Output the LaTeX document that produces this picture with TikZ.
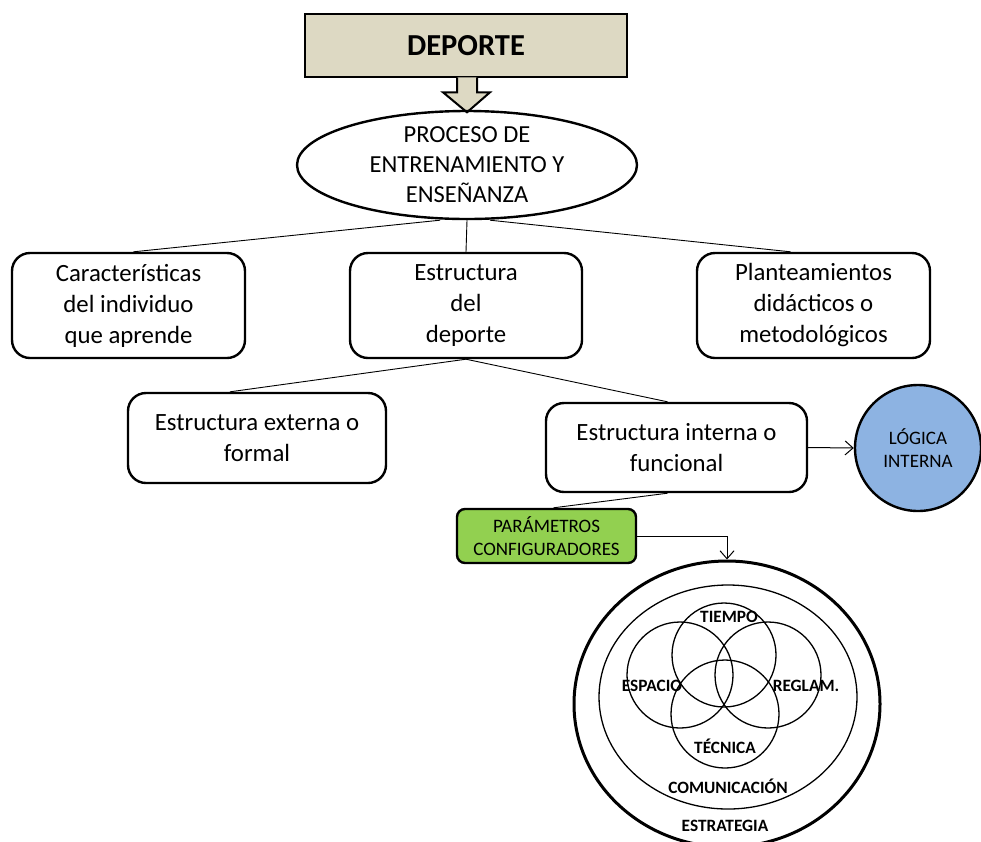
\documentclass[tikz,border=0pt]{standalone}
\usepackage{fontspec}
\setmainfont{Carlito}
\usetikzlibrary{shapes.geometric,arrows.meta,calc}
\definecolor{tan}{HTML}{DDD9C3}
\definecolor{lgreen}{HTML}{92D050}
\definecolor{lblue}{HTML}{8DB3E2}
\tikzset{
  rbox/.style={draw, line width=2.4pt, rounded corners=18pt, align=center, inner sep=2pt,
     font=\fontsize{24.8}{31}\selectfont},
  conn/.style={line width=0.9pt},
  arr/.style={line width=1pt, -{Straight Barb[length=8pt,width=14pt]}},
  venn/.style={line width=1.3pt},
  vlab/.style={font=\fontsize{17.3}{20}\selectfont\bfseries, inner sep=0pt},
}
\begin{document}
\begin{tikzpicture}[x=1pt,y=-1pt]
\useasboundingbox (0,0) rectangle (981,841);
% top box
\node[draw, line width=2.6pt, fill=tan, minimum width=322pt, minimum height=63pt, inner sep=0pt,
  font=\fontsize{30.5}{34}\selectfont\bfseries] (dep) at (466,45.5) {DEPORTE};
% block arrow
\draw[line width=2pt, fill=tan, line join=miter]
  ($(dep.south)+(-9,-1)$) -- ($(dep.south)+(-9,14)$) -- ($(dep.south)+(-23,14)$)
  -- ($(dep.south)+(1,34)$) -- ($(dep.south)+(24,14)$) -- ($(dep.south)+(11,14)$)
  -- ($(dep.south)+(11,-1)$);
\node[draw, line width=2.4pt, ellipse, minimum width=340pt, minimum height=108pt, inner sep=0pt,
  align=center, font=\fontsize{24.5}{30}\selectfont] (proc) at (467,165)
  {PROCESO DE\\ENTRENAMIENTO Y\\ENSEÑANZA};
% first row
\node[rbox, minimum width=233pt, minimum height=105pt] (car) at (128.5,305.5)
  {Características\\del individuo\\que aprende};
\node[rbox, minimum width=232pt, minimum height=105pt] (est) at (466,305.5)
  {Estructura\\del\\deporte};
\node[rbox, minimum width=233pt, minimum height=105pt] (pla) at (813.5,305.5)
  {Planteamientos\\didácticos o\\metodológicos};
\draw[conn] (proc.south) -- (est.north);
\draw[conn] ($(proc.south)+(-27,0)$) -- ($(car.north)+(5,0)$);
\draw[conn] ($(proc.south)+(23,0)$) -- ($(pla.north)+(-23,0)$);
% second row
\node[rbox, minimum width=258pt, minimum height=90pt] (ext) at (257,438)
  {Estructura externa o\\formal};
\node[rbox, minimum width=261pt, minimum height=89pt] (int) at (676.5,447.5)
  {Estructura interna o\\funcional};
\draw[conn] (est.south) -- ($(ext.north)+(-27,0)$);
\draw[conn] (est.south) -- ($(int.north)+(-9,0)$);
% logica interna
\node[draw, circle, line width=2.4pt, fill=lblue, minimum size=126pt, inner sep=0pt, align=center,
  font=\fontsize{19}{23}\selectfont] (log) at (918,448) {LÓGICA\\INTERNA};
\draw[arr] (int.east) -- (log.west);
% parametros
\node[draw, line width=2.4pt, rounded corners=8pt, fill=lgreen, minimum width=179pt, minimum height=54pt,
  inner sep=0pt, align=center, font=\fontsize{19}{23}\selectfont] (par) at (546.5,536)
  {PARÁMETROS\\CONFIGURADORES};
\draw[conn] ($(int.south)+(-9,0)$) -- ($(par.north)+(7,0)$);
% outer ellipses
\node[draw, ellipse, line width=3pt, minimum width=306pt, minimum height=286pt, inner sep=0pt] (outer) at (727,704) {};
\node[draw, ellipse, line width=1.3pt, minimum width=258pt, minimum height=224pt, inner sep=0pt] (inner) at (728,697) {};
\draw[arr] (par.east) -| (outer.north);
% venn circles
\draw[venn] (724,655) circle (52);
\draw[venn] (680,675) circle (53);
\draw[venn] (768,675) circle (53);
\draw[venn] (725,714) circle (54);
\node[vlab] (ltie) at (729,617) {TIEMPO};
\node[vlab] (lesp) at (652,686) {ESPACIO};
\node[vlab] (lreg) at (806,686) {REGLAM.};
\node[vlab] (ltec) at (725,746) {TÉCNICA};
\node[vlab] (lcom) at (728,786) {COMUNICACIÓN};
\node[vlab] (lest) at (725,826) {ESTRATEGIA};
\end{tikzpicture}
\end{document}
